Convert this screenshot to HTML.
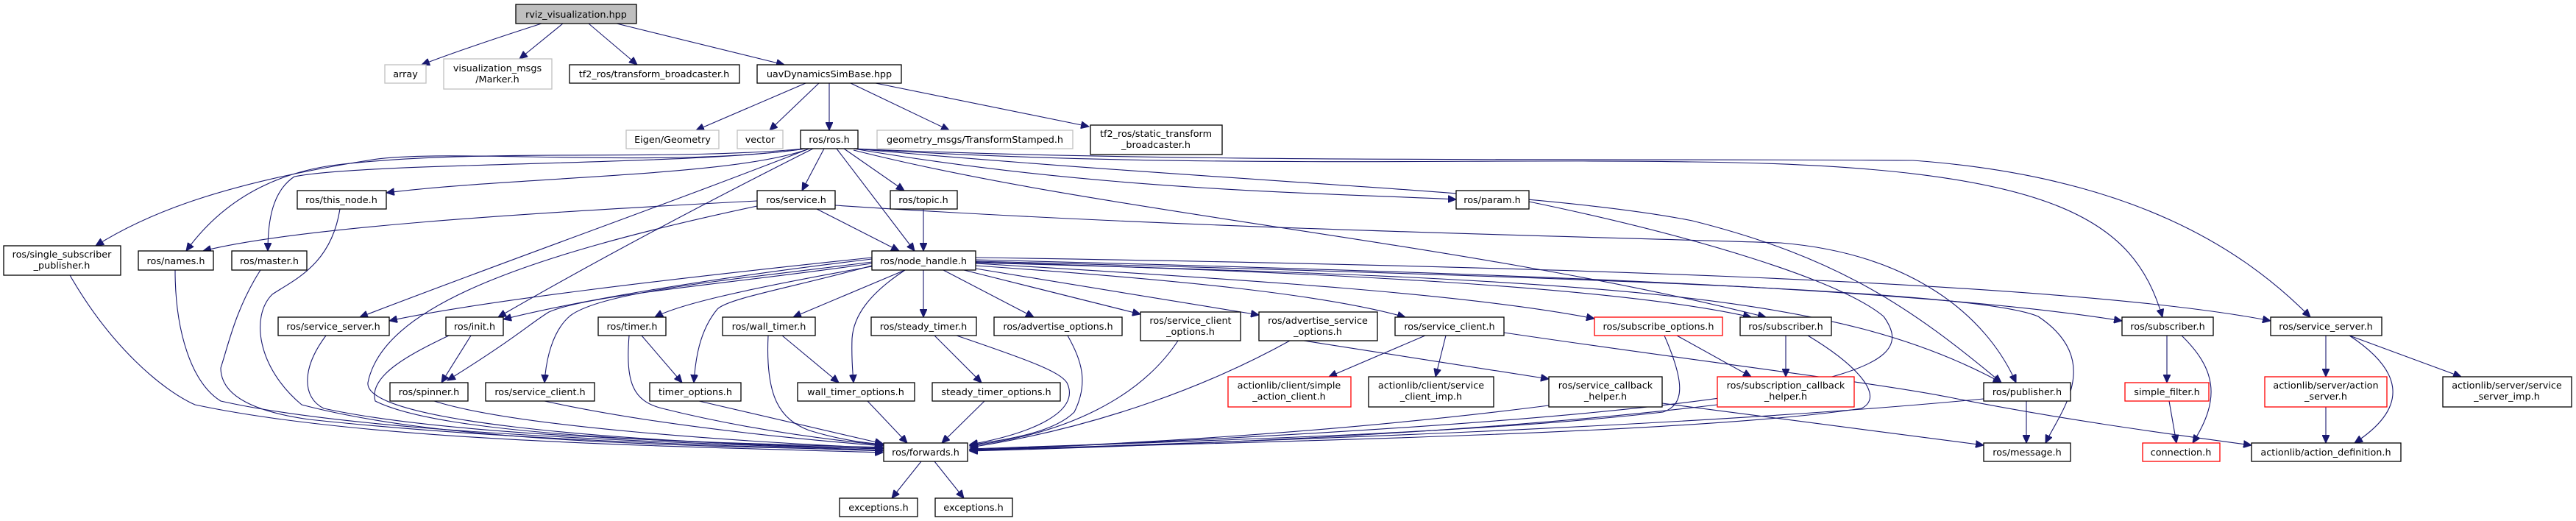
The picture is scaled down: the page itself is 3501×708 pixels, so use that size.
<!DOCTYPE html>
<html><head><meta charset="utf-8"><style>
html,body{margin:0;padding:0;background:#fff;}
svg{display:block;}
text{font-family:"DejaVu Sans","Liberation Sans",sans-serif;font-size:12.8px;fill:#000;text-anchor:middle;}
.n{fill:#fff;stroke:#000;stroke-width:1.3;}
.g{fill:#fff;stroke:#bfbfbf;stroke-width:1.3;}
.r{fill:#fff;stroke:#ff0000;stroke-width:1.3;}
.e{fill:none;stroke:#191970;stroke-width:1.1;marker-end:url(#a);}
</style></head><body>
<svg width="3501" height="708" viewBox="0 0 3501 708" xmlns="http://www.w3.org/2000/svg">
<defs><marker id="a" markerWidth="12" markerHeight="10" refX="11" refY="5" orient="auto" markerUnits="userSpaceOnUse"><path d="M0,0 L11,5 L0,10 z" fill="#191970" stroke="#191970"/></marker></defs>
<g>
<path class="e" d="M736,32 C680,50 620,70 573,88"/>
<path class="e" d="M765,32 L706,80"/>
<path class="e" d="M800,32 L866,88"/>
<path class="e" d="M838,32 L1066,88"/>
<path class="e" d="M1095,113 L946,177"/>
<path class="e" d="M1113,113 L1046,177"/>
<path class="e" d="M1127,113 L1127,177"/>
<path class="e" d="M1156,113 L1290,177"/>
<path class="e" d="M1190,113 L1480,172"/>
<path class="e" d="M1120,202 L1090,259"/>
<path class="e" d="M1137,202 L1243,341"/>
<path class="e" d="M1147,202 L1229,259"/>
<path class="e" d="M1100,202 C1000,240 700,240 525,262"/>
<path class="e" d="M1095,202 C900,220 650,200 450,225 C350,240 290,290 253,341"/>
<path class="e" d="M1095,202 C950,225 500,220 400,240 C370,260 364,300 364,341"/>
<path class="e" d="M1095,202 C900,230 600,200 500,218 C300,250 200,290 130,334"/>
<path class="e" d="M1100,202 C900,280 700,350 489,431"/>
<path class="e" d="M1105,202 C950,280 800,360 677,431"/>
<path class="e" d="M1160,202 C1500,260 1800,262 1979,271"/>
<path class="e" d="M1160,202 C1600,230 2000,215 2300,220 C2800,225 2900,300 2939,431"/>
<path class="e" d="M1160,202 C1600,222 2200,215 2600,218 C2900,240 3050,340 3140,431"/>
<path class="e" d="M1160,202 C1700,250 2100,260 2300,300 C2500,350 2600,420 2720,520"/>
<path class="e" d="M1160,204 C1500,290 2000,330 2400,431"/>
<path class="e" d="M1110,284 L1222,341"/>
<path class="e" d="M1029,273 C700,290 400,310 276,341"/>
<path class="e" d="M1029,280 C700,350 520,420 500,520 C495,570 800,600 1200,610"/>
<path class="e" d="M1135,279 C1600,310 2100,320 2420,330 C2600,345 2700,430 2740,520"/>
<path class="e" d="M1255,284 L1255,341"/>
<path class="e" d="M2078,274 C2300,320 2500,380 2560,430 C2610,500 2550,560 1318,612"/>
<path class="e" d="M462,284 C450,360 400,380 370,400 C340,430 350,500 410,550 C600,600 900,605 1200,612"/>
<path class="e" d="M238,367 C238,450 260,520 300,545 C500,590 900,600 1200,612"/>
<path class="e" d="M354,367 C320,420 310,470 300,500 C300,540 350,560 420,570 C700,600 1000,605 1200,613"/>
<path class="e" d="M95,374 C150,470 220,530 265,550 C500,600 900,606 1200,615"/>
<path class="e" d="M1185,350 C900,380 650,410 529,436"/>
<path class="e" d="M1185,352 C950,380 780,410 684,434"/>
<path class="e" d="M1230,367 L1078,431"/>
<path class="e" d="M1185,362 C1000,395 920,415 890,431"/>
<path class="e" d="M1255,367 L1255,431"/>
<path class="e" d="M1282,367 L1405,431"/>
<path class="e" d="M1310,367 L1550,427"/>
<path class="e" d="M1326,365 L1711,428"/>
<path class="e" d="M1326,361 C1600,380 1800,400 1910,431"/>
<path class="e" d="M1326,358 C1700,380 2000,400 2167,433"/>
<path class="e" d="M1326,356 C1800,370 2200,390 2380,431"/>
<path class="e" d="M1326,353 C2000,370 2600,390 2884,436"/>
<path class="e" d="M1326,350 C2000,360 2800,380 3086,436"/>
<path class="e" d="M1326,357 C2200,380 2500,400 2720,520"/>
<path class="e" d="M1326,355 C2300,380 2700,400 2770,430 C2860,490 2800,560 2780,602"/>
<path class="e" d="M1185,356 C1000,380 820,395 775,429 C750,450 742,490 740,520"/>
<path class="e" d="M1185,358 C1000,385 800,400 746,424 C720,440 700,460 608,517"/>
<path class="e" d="M1185,361 C1080,390 990,405 975,420 C950,450 945,490 943,520"/>
<path class="e" d="M1230,367 C1180,400 1160,430 1158,460 C1157,490 1159,505 1160,520"/>
<path class="e" d="M443,456 C410,500 410,540 440,555 C600,590 900,600 1200,608"/>
<path class="e" d="M640,456 L600,520"/>
<path class="e" d="M610,456 C560,480 500,510 510,545 C600,590 900,600 1200,610"/>
<path class="e" d="M872,456 L927,520"/>
<path class="e" d="M855,456 C850,520 860,545 900,555 C1000,580 1100,595 1200,605"/>
<path class="e" d="M1063,456 L1140,520"/>
<path class="e" d="M1044,456 C1040,540 1060,570 1100,585 C1150,600 1180,602 1200,604"/>
<path class="e" d="M1270,456 L1334,520"/>
<path class="e" d="M1300,456 C1400,490 1440,505 1450,520 C1470,560 1400,590 1318,604"/>
<path class="e" d="M1451,456 C1470,490 1480,520 1460,560 C1430,590 1360,598 1318,605"/>
<path class="e" d="M1601,463 C1550,540 1450,590 1318,606"/>
<path class="e" d="M1753,463 C1650,520 1500,580 1318,608"/>
<path class="e" d="M1772,463 L2105,515"/>
<path class="e" d="M1937,456 L1806,512"/>
<path class="e" d="M1965,456 L1951,512"/>
<path class="e" d="M2044,452 C2300,490 2550,520 2650,540 C2800,570 2950,590 3060,605"/>
<path class="e" d="M2279,456 L2380,512"/>
<path class="e" d="M2262,456 C2290,520 2290,550 2260,560 C2000,590 1600,600 1318,610"/>
<path class="e" d="M2427,456 L2427,512"/>
<path class="e" d="M2457,456 C2530,500 2560,540 2530,555 C2300,590 1700,600 1318,612"/>
<path class="e" d="M2945,456 L2945,520"/>
<path class="e" d="M2965,456 C3010,500 3020,540 2980,602"/>
<path class="e" d="M3161,456 L3161,512"/>
<path class="e" d="M3193,456 C3260,500 3280,550 3200,602"/>
<path class="e" d="M3193,456 L3345,512"/>
<path class="e" d="M2948,545 L2958,602"/>
<path class="e" d="M3161,553 L3161,602"/>
<path class="e" d="M2754,545 L2754,602"/>
<path class="e" d="M2696,542 C2300,580 1700,600 1318,612"/>
<path class="e" d="M2259,548 L2696,605"/>
<path class="e" d="M2105,551 C1800,590 1500,605 1318,611"/>
<path class="e" d="M2334,550 C2000,590 1600,605 1318,613"/>
<path class="e" d="M590,545 C700,580 1000,600 1200,609"/>
<path class="e" d="M740,545 C900,580 1100,598 1200,606"/>
<path class="e" d="M950,545 L1200,603"/>
<path class="e" d="M1179,545 L1233,602"/>
<path class="e" d="M1338,545 L1280,602"/>
<path class="e" d="M1252,627 L1212,677"/>
<path class="e" d="M1270,627 L1310,677"/>
</g>
<g>
<rect x="701" y="6" width="164" height="26" style="fill:#bfbfbf;stroke:#000;stroke-width:1.3"/><text x="783" y="24">rviz_visualization.hpp</text>
<rect class="g" x="523" y="88" width="56" height="25"/><text x="551" y="105">array</text>
<rect class="g" x="603" y="80" width="147" height="41"/><text x="676" y="97">visualization_msgs</text><text x="676" y="112">/Marker.h</text>
<rect class="n" x="774" y="88" width="231" height="25"/><text x="889" y="105">tf2_ros/transform_broadcaster.h</text>
<rect class="n" x="1029" y="88" width="196" height="25"/><text x="1127" y="105">uavDynamicsSimBase.hpp</text>
<rect class="g" x="851" y="177" width="126" height="25"/><text x="914" y="194">Eigen/Geometry</text>
<rect class="g" x="1002" y="177" width="62" height="25"/><text x="1033" y="194">vector</text>
<rect class="n" x="1088" y="177" width="78" height="25"/><text x="1127" y="194">ros/ros.h</text>
<rect class="g" x="1192" y="177" width="266" height="25"/><text x="1325" y="194">geometry_msgs/TransformStamped.h</text>
<rect class="n" x="1482" y="170" width="179" height="40"/><text x="1571" y="186">tf2_ros/static_transform</text><text x="1571" y="201">_broadcaster.h</text>
<rect class="n" x="404" y="259" width="121" height="25"/><text x="464" y="276">ros/this_node.h</text>
<rect class="n" x="1029" y="259" width="106" height="25"/><text x="1082" y="276">ros/service.h</text>
<rect class="n" x="1210" y="259" width="91" height="25"/><text x="1255" y="276">ros/topic.h</text>
<rect class="n" x="1979" y="259" width="99" height="25"/><text x="2028" y="276">ros/param.h</text>
<rect class="n" x="5" y="334" width="159" height="40"/><text x="84" y="350">ros/single_subscriber</text><text x="84" y="365">_publisher.h</text>
<rect class="n" x="188" y="341" width="102" height="26"/><text x="239" y="359">ros/names.h</text>
<rect class="n" x="315" y="341" width="102" height="26"/><text x="366" y="359">ros/master.h</text>
<rect class="n" x="1185" y="341" width="141" height="26"/><text x="1255" y="359">ros/node_handle.h</text>
<rect class="n" x="378" y="431" width="151" height="25"/><text x="453" y="448">ros/service_server.h</text>
<rect class="n" x="606" y="431" width="78" height="25"/><text x="645" y="448">ros/init.h</text>
<rect class="n" x="813" y="431" width="92" height="25"/><text x="859" y="448">ros/timer.h</text>
<rect class="n" x="982" y="431" width="126" height="25"/><text x="1045" y="448">ros/wall_timer.h</text>
<rect class="n" x="1184" y="431" width="143" height="25"/><text x="1255" y="448">ros/steady_timer.h</text>
<rect class="n" x="1351" y="431" width="174" height="25"/><text x="1438" y="448">ros/advertise_options.h</text>
<rect class="n" x="1550" y="424" width="136" height="39"/><text x="1618" y="440">ros/service_client</text><text x="1618" y="455">_options.h</text>
<rect class="n" x="1711" y="424" width="161" height="39"/><text x="1791" y="440">ros/advertise_service</text><text x="1791" y="455">_options.h</text>
<rect class="n" x="1896" y="431" width="148" height="25"/><text x="1970" y="448">ros/service_client.h</text>
<rect class="r" x="2167" y="431" width="174" height="25"/><text x="2254" y="448">ros/subscribe_options.h</text>
<rect class="n" x="2365" y="431" width="124" height="25"/><text x="2427" y="448">ros/subscriber.h</text>
<rect class="n" x="2884" y="431" width="124" height="25"/><text x="2946" y="448">ros/subscriber.h</text>
<rect class="n" x="3086" y="431" width="151" height="25"/><text x="3161" y="448">ros/service_server.h</text>
<rect class="n" x="530" y="520" width="106" height="25"/><text x="583" y="537">ros/spinner.h</text>
<rect class="n" x="660" y="520" width="148" height="25"/><text x="734" y="537">ros/service_client.h</text>
<rect class="n" x="883" y="520" width="124" height="25"/><text x="945" y="537">timer_options.h</text>
<rect class="n" x="1084" y="520" width="159" height="25"/><text x="1163" y="537">wall_timer_options.h</text>
<rect class="n" x="1267" y="520" width="174" height="25"/><text x="1354" y="537">steady_timer_options.h</text>
<rect class="r" x="1669" y="512" width="167" height="41"/><text x="1752" y="528">actionlib/client/simple</text><text x="1752" y="543">_action_client.h</text>
<rect class="n" x="1860" y="512" width="170" height="41"/><text x="1945" y="528">actionlib/client/service</text><text x="1945" y="543">_client_imp.h</text>
<rect class="n" x="2105" y="512" width="154" height="41"/><text x="2182" y="528">ros/service_callback</text><text x="2182" y="543">_helper.h</text>
<rect class="r" x="2334" y="512" width="186" height="41"/><text x="2427" y="528">ros/subscription_callback</text><text x="2427" y="543">_helper.h</text>
<rect class="n" x="2696" y="520" width="118" height="25"/><text x="2755" y="537">ros/publisher.h</text>
<rect class="r" x="2888" y="520" width="114" height="25"/><text x="2945" y="537">simple_filter.h</text>
<rect class="r" x="3078" y="512" width="166" height="41"/><text x="3161" y="528">actionlib/server/action</text><text x="3161" y="543">_server.h</text>
<rect class="n" x="3320" y="512" width="175" height="41"/><text x="3407" y="528">actionlib/server/service</text><text x="3407" y="543">_server_imp.h</text>
<rect class="n" x="1201" y="602" width="114" height="25"/><text x="1258" y="619">ros/forwards.h</text>
<rect class="n" x="2696" y="602" width="118" height="25"/><text x="2755" y="619">ros/message.h</text>
<rect class="r" x="2912" y="602" width="105" height="25"/><text x="2964" y="619">connection.h</text>
<rect class="n" x="3060" y="602" width="203" height="25"/><text x="3161" y="619">actionlib/action_definition.h</text>
<rect class="n" x="1141" y="677" width="106" height="25"/><text x="1194" y="694">exceptions.h</text>
<rect class="n" x="1271" y="677" width="105" height="25"/><text x="1323" y="694">exceptions.h</text>
</g>
</svg>
</body></html>
